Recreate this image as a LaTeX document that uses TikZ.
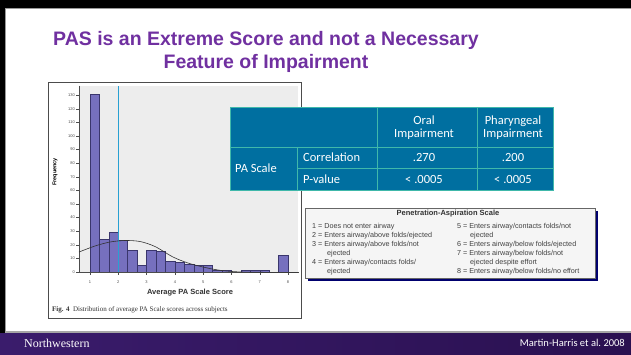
\documentclass[tikz,border=0pt]{standalone}
\usepackage{fontspec}
\setmainfont{Liberation Serif}
\setsansfont{Liberation Sans}
\newfontfamily\calibri{Carlito}
\usetikzlibrary{positioning}
\definecolor{titlepurple}{RGB}{112,48,160}
\definecolor{tablefill}{RGB}{0,111,160}
\definecolor{tableline}{RGB}{64,184,170}
\definecolor{barfill}{RGB}{118,112,190}
\definecolor{baredge}{RGB}{58,54,108}
\definecolor{cutline}{RGB}{40,160,210}
\definecolor{navyshadow}{RGB}{0,0,110}
\definecolor{nuleft}{RGB}{58,28,108}
\definecolor{numid}{RGB}{96,66,146}
\definecolor{nuright}{RGB}{42,16,80}
\tikzset{
    title/.style={font=\sffamily\bfseries\fontsize{19.5}{23}\selectfont, text=titlepurple, inner sep=0pt, anchor=base}, % slide heading
    cell/.style={font=\calibri\fontsize{12.5}{13}\selectfont, text=white, inner sep=0pt, align=center}, % table text
    scaleitem/.style={font=\sffamily\fontsize{7.2}{8}\selectfont, text=black!75, inner sep=0pt, anchor=west}, % rows of the PA scale
    ticklabel/.style={font=\sffamily\fontsize{4}{4}\selectfont, text=black!70, inner sep=0pt},
    bar/.style={fill=barfill, draw=baredge, line width=0.5pt}, % histogram bars
}

\begin{document}
\begin{tikzpicture}[x=1pt, y=-1pt]
    \useasboundingbox (0,0) rectangle (631,354);
    % frame and footer
    \fill[black] (0,0) rectangle (631,8);
    \fill[black] (0,0) rectangle (5,333);
    \draw[black!40, line width=0.8pt] (5,8.6) -- (631,8.6) (5.6,8) -- (5.6,331);
    \fill[black!35] (5,330.5) rectangle (631,333);
    \shade[left color=nuleft, middle color=numid, right color=nuright] (0,333) rectangle (631,354);
    \node[font=\rmfamily\fontsize{12}{12}\selectfont, text=white, anchor=west, inner sep=0pt] (nu) at (24,343) {Northwestern};
    \node[font=\calibri\fontsize{10.5}{11}\selectfont, text=white, anchor=east, inner sep=0pt] (cite) at (625,343) {Martin-Harris et al.\ 2008};

    % heading
    \node[title] (title1) at (266,45) {PAS is an Extreme Score and not a Necessary};
    \node[title] (title2) at (266,68) {Feature of Impairment};

    % histogram figure
    \draw[black!70, fill=white, line width=0.8pt] (48,82) rectangle (301,318);
    \fill[black!7] (79,86) rectangle (298,272);
    \begin{scope}[shift={(61.7,272)}, x=28.3pt, y=1.36pt]
        \foreach \k/\f in {0/131,1/24,2/29,3/23,4/16,5/5,6/16,7/15,8/8,9/7,10/6,11/5,12/5,13/1,14/1,16/1,17/1,18/1,20/12}
            \draw[bar] ({1+\k/3},0) rectangle ({1+(\k+1)/3},\f);
        \draw[cutline, line width=0.9pt] (2,0) -- (2,137);
        \foreach \s in {1,...,8} {
            \draw[black!70, line width=0.4pt] (\s,0) -- (\s,-2.2);
            \node[ticklabel] (xt\s) at (\s,-7.5) {\s};
        }
        \foreach \f in {0,10,...,130} {
            \draw[black!70, line width=0.4pt] (0.611,\f) -- (0.5,\f);
            \node[ticklabel, anchor=east] (yt\f) at (0.47,\f) {\f};
        }
        \draw[black!70, line width=0.5pt] (0.611,137) -- (0.611,0) -- (8.4,0);
    \end{scope}
    % fitted normal curve
    \draw[black!80, line width=0.6pt] plot[smooth] coordinates {(79,252) (95,246) (110,242) (125,240.5) (140,241.5) (155,246.5) (173,257) (188,263) (203,267) (218,270) (232,271.5) (250,272.2) (298,272.4)};
    \node[font=\sffamily\bfseries\fontsize{5.5}{6}\selectfont, rotate=90, inner sep=0pt] (freq) at (55,172) {Frequency};
    \node[font=\sffamily\bfseries\fontsize{7.5}{8}\selectfont, text=black!80, inner sep=0pt] (xlab) at (190,293) {Average PA Scale Score};
    \node[font=\rmfamily\fontsize{7}{8}\selectfont, text=black!80, anchor=west, inner sep=0pt] (caption) at (52,310) {\textbf{Fig. 4}\enspace Distribution of average PA Scale scores across subjects};

    % correlation table
    \fill[tablefill] (230,107) rectangle (553,190);
    \draw[tableline, line width=1pt] (230,107) rectangle (553,190)
        (230,147) -- (553,147) (297,168) -- (553,168)
        (297,147) -- (297,190) (377,107) -- (377,190) (477,107) -- (477,190);
    \node[cell] (oral) at (424,127.5) {Oral\\Impairment};
    \node[cell] (phar) at (513,127.5) {Pharyngeal\\Impairment};
    \node[cell, anchor=west] (pascale) at (235,168) {PA Scale};
    \node[cell, anchor=west] (corr) at (303,157.5) {Correlation};
    \node[cell, anchor=west] (pval) at (303,179) {P-value};
    \node[cell] (corroral) at (424,157.5) {.270};
    \node[cell] (corrphar) at (513,157.5) {.200};
    \node[cell] (pvaloral) at (424,179) {< .0005};
    \node[cell] (pvalphar) at (513,179) {< .0005};

    % penetration-aspiration scale key
    \fill[navyshadow] (307.5,210.5) rectangle (597.5,280.5);
    \draw[black!60, fill=black!4, line width=0.8pt] (305,208) rectangle (595,278);
    \node[font=\sffamily\bfseries\fontsize{7.5}{8}\selectfont, text=black!80, inner sep=0pt] (pastitle) at (448,213.5) {Penetration-Aspiration Scale};
    \node[scaleitem] (pas1) at (312,227) {1 = Does not enter airway};
    \node[scaleitem] (pas2) at (312,235.5) {2 = Enters airway/above folds/ejected};
    \node[scaleitem] (pas3) at (312,244.5) {3 = Enters airway/above folds/not};
    \node[scaleitem] (pas3b) at (327,253.5) {ejected};
    \node[scaleitem] (pas4) at (312,262.5) {4 = Enters airway/contacts folds/};
    \node[scaleitem] (pas4b) at (327,271.5) {ejected};
    \node[scaleitem] (pas5) at (457,227) {5 = Enters airway/contacts folds/not};
    \node[scaleitem] (pas5b) at (470,235.5) {ejected};
    \node[scaleitem] (pas6) at (457,244.5) {6 = Enters airway/below folds/ejected};
    \node[scaleitem] (pas7) at (457,253.5) {7 = Enters airway/below folds/not};
    \node[scaleitem] (pas7b) at (470,262.5) {ejected despite effort};
    \node[scaleitem] (pas8) at (457,271.5) {8 = Enters airway/below folds/no effort};
\end{tikzpicture}
\end{document}
